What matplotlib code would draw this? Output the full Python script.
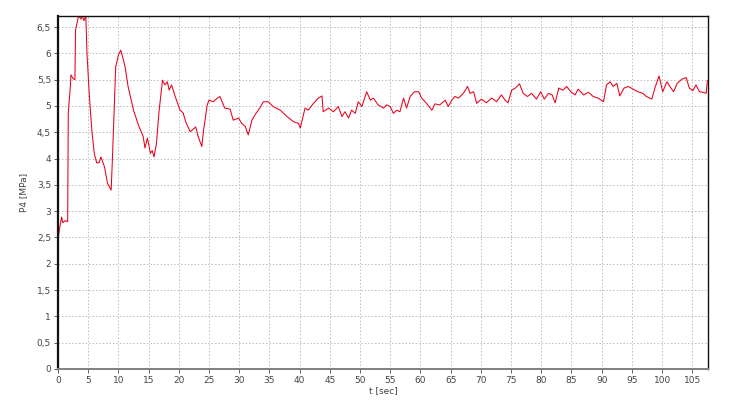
import numpy as np
import matplotlib
matplotlib.use("Agg")
import matplotlib.pyplot as plt
from matplotlib.ticker import FuncFormatter

# pressure trace
t = [0, 0.02, 0.05, 0.3, 0.6, 0.8, 1.2, 1.6, 1.7, 2.0, 2.15, 2.5, 2.8, 2.9, 3.2, 3.4,
     3.8, 4.0, 4.3, 4.6, 4.8, 5.2, 5.6, 6.0, 6.4, 6.8, 7.1, 7.7, 8.2, 8.8, 9.0, 9.55,
     10.0, 10.4, 11.1, 11.6, 12.5, 13.3, 14.1, 14.4, 14.8, 15.3, 15.6, 15.9, 16.3, 16.7,
     17.3, 17.7, 18.1, 18.4, 18.8, 19.4, 20.2, 20.7, 21.2, 21.9, 22.8, 23.2, 23.8, 24.1,
     24.7, 25.0, 25.7, 26.3,
     26.8, 27.6, 28.5, 29.0, 29.9, 30.4, 31.0, 31.5, 32.1, 32.6, 33.4, 34.0, 34.8, 35.6,
     36.8, 37.9, 39.0, 39.8, 40.1, 40.9, 41.4, 42.3, 43.1, 43.7, 43.9, 44.8, 45.6, 46.4,
     47.0, 47.5, 48.1, 48.6, 49.2, 49.7, 50.3, 51.1, 51.7, 52.2, 53.0, 53.9, 54.4, 55.0,
     55.5, 56.1, 56.6, 57.2, 57.7, 58.3, 59.0, 59.7, 60.2, 61.0, 61.9, 62.4, 63.2, 64.1,
     64.6, 65.2, 65.7, 66.3, 67.1, 67.8,
     68.2, 68.8, 69.3, 70.1, 70.9, 71.8, 72.6, 73.4, 74.0, 74.5, 75.1, 75.7, 76.4, 77.0,
     77.7, 78.4, 79.2, 79.9, 80.5, 81.2, 81.8, 82.3, 82.9, 83.6, 84.2, 84.9, 85.6, 86.1,
     87.0, 87.8, 88.6, 89.4, 90.3, 90.8, 91.4, 91.9, 92.5, 93.0, 93.7, 94.4, 95.2, 96.0,
     96.8, 97.4, 98.3, 98.8, 99.5, 100.1, 100.8, 101.3, 101.9, 102.5, 103.3, 104.0, 104.5,
     105.1, 105.6, 106.2, 106.8, 107.3, 107.5]
p = [0, 1.0, 2.5, 2.7, 2.89, 2.78, 2.82, 2.8, 4.87, 5.3, 5.59, 5.52, 5.5, 6.44, 6.6, 6.72,
     6.65, 6.72, 6.62, 6.72, 6.0, 5.17, 4.54, 4.1, 3.92, 3.92, 4.03, 3.84, 3.53, 3.4, 3.97, 5.74,
     5.97, 6.06, 5.75, 5.37, 4.92, 4.64, 4.42, 4.2, 4.39, 4.1, 4.15, 4.03, 4.29, 4.87,
     5.49, 5.4, 5.46, 5.3, 5.4, 5.18, 4.92, 4.87, 4.68, 4.51, 4.6, 4.42, 4.23, 4.54,
     5.02, 5.11, 5.08, 5.14,
     5.18, 4.96, 4.94, 4.73, 4.77, 4.67, 4.61, 4.45, 4.73, 4.83, 4.96, 5.08, 5.08, 4.99,
     4.92, 4.80, 4.70, 4.67, 4.58, 4.96, 4.92, 5.05, 5.15, 5.19, 4.89, 4.96, 4.89, 4.99,
     4.80, 4.89, 4.77, 4.92, 4.86, 5.08, 4.99, 5.27, 5.11, 5.15, 5.02, 4.96, 5.02, 4.99,
     4.86, 4.92, 4.89, 5.15, 4.96, 5.18, 5.27, 5.27, 5.15, 5.05, 4.92, 5.04, 5.02, 5.11,
     4.99, 5.11, 5.18, 5.15, 5.24, 5.37,
     5.24, 5.27, 5.05, 5.13, 5.06, 5.15, 5.08, 5.21, 5.11, 5.06, 5.30, 5.34, 5.42, 5.24,
     5.18, 5.24, 5.13, 5.27, 5.13, 5.24, 5.21, 5.06, 5.34, 5.30, 5.37, 5.27, 5.21, 5.32,
     5.21, 5.26, 5.18, 5.15, 5.08, 5.40, 5.46, 5.37, 5.43, 5.19, 5.34, 5.37, 5.32, 5.27,
     5.24, 5.18, 5.13, 5.34, 5.57, 5.27, 5.46, 5.37, 5.27, 5.43, 5.51, 5.54, 5.34,
     5.29, 5.40, 5.27, 5.26, 5.24, 5.48]

x_ticks = [0, 5, 10, 15, 20, 25, 30, 35, 40, 45, 50, 55, 60, 65, 70, 75, 80, 85, 90, 95, 100, 105]
y_ticks = [0, 0.5, 1, 1.5, 2, 2.5, 3, 3.5, 4, 4.5, 5, 5.5, 6, 6.5]

fig = plt.figure(figsize=(7.30, 4.04), dpi=100)
ax = fig.add_axes([58 / 730, 1 - 369 / 404, 650 / 730, 353 / 404])

ax.plot(t, p, color="#e8001a", lw=0.75)

ax.set_xlim(0, 107.6)
ax.set_ylim(0, 6.71)
ax.set_xticks(x_ticks)
ax.set_yticks(y_ticks)
ax.yaxis.set_major_formatter(FuncFormatter(lambda v, pos: ("%g" % v).replace(".", ",")))

ax.grid(True, color="#bdbdbd", ls=(0, (1.5, 2)), lw=0.7)
ax.tick_params(labelsize=6.5, colors="#444444", length=3, width=0.6, pad=2)

for side in ["left", "top", "right"]:
    ax.spines[side].set_color("#111111")
ax.spines["left"].set_linewidth(1.6)
ax.spines["top"].set_linewidth(1.0)
ax.spines["right"].set_linewidth(1.0)
ax.spines["bottom"].set_color("#808080")
ax.spines["bottom"].set_linewidth(1.4)

ax.set_xlabel("t [sec]", fontsize=6.5, color="#444444", labelpad=1)
ax.set_ylabel("P4 [MPa]", fontsize=6.5, color="#444444", labelpad=6)

fig.savefig("out.png", dpi=100)
